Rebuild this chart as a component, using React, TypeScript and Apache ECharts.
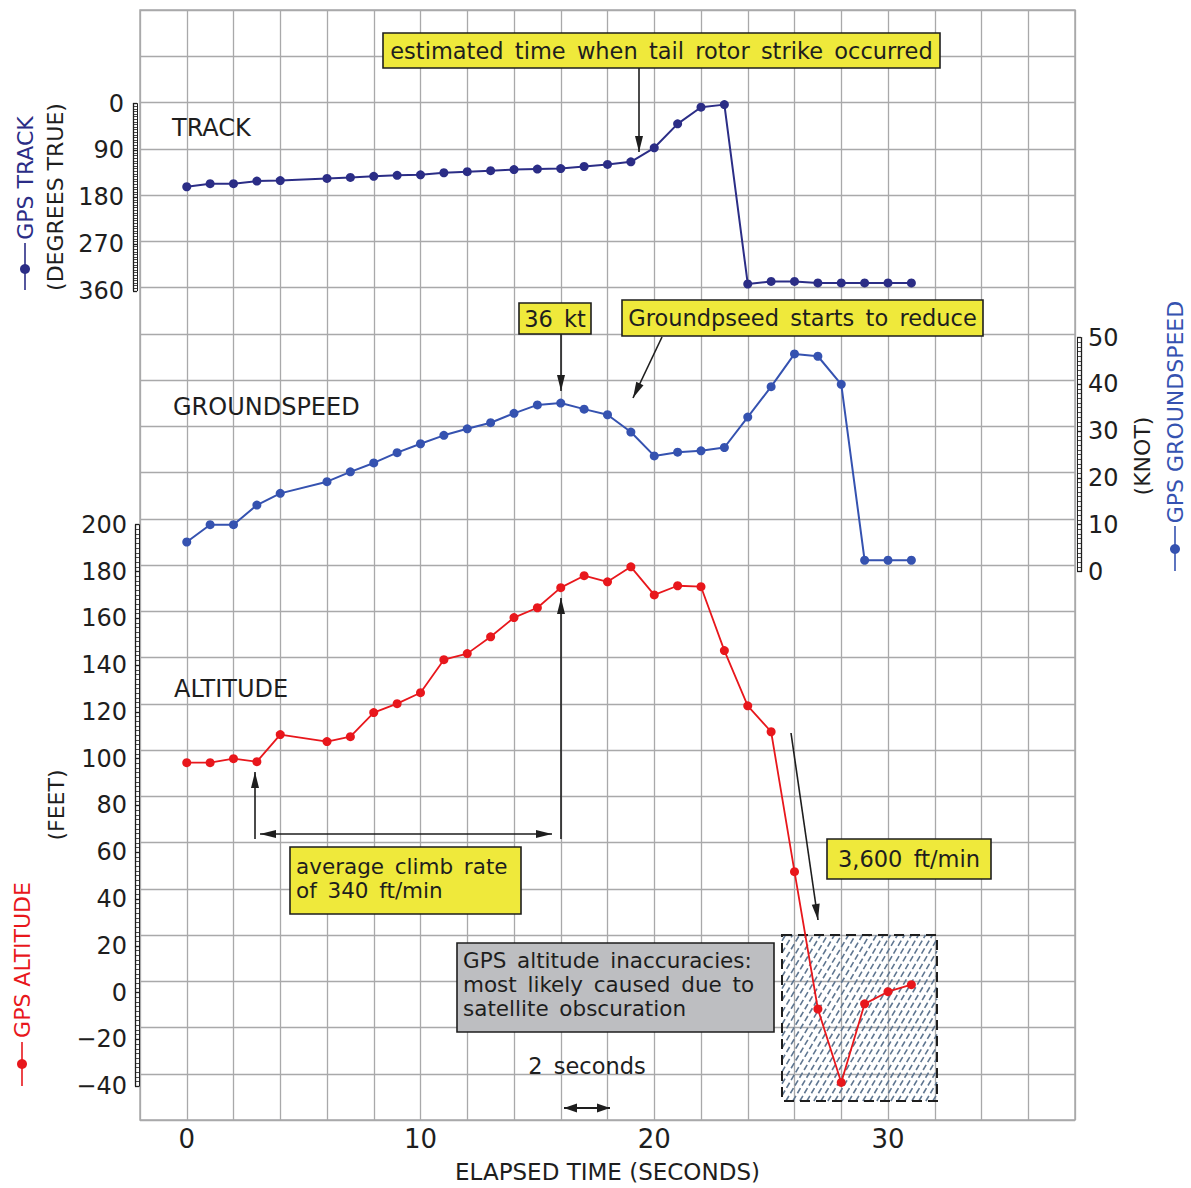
import React, { useEffect, useRef } from "react";
import * as echarts from "echarts";

// ---------------- data ----------------
const timeSec = [0, 1, 2, 3, 4, 6, 7, 8, 9, 10, 11, 12, 13, 14, 15, 16, 17, 18, 19, 20, 21, 22, 23, 24, 25, 26, 27, 28, 29, 30, 31];
const trackDeg = [160, 154, 154, 149, 148, 144, 142, 140, 138, 137, 133, 131, 129, 127, 126, 125, 121, 117, 112, 85, 39, 7, 2, 347, 342, 342, 345, 345, 345, 345, 345];
const groundspeedKt = [6.3, 10, 10, 14.2, 16.7, 19.2, 21.3, 23.2, 25.4, 27.3, 29.1, 30.5, 31.8, 33.8, 35.6, 36, 34.7, 33.5, 29.8, 24.7, 25.5, 25.8, 26.5, 33, 39.5, 46.5, 46, 40, 2.4, 2.4, 2.4];
const altitudeFt = [98.3, 98.3, 100, 98.7, 110.3, 107.3, 109.4, 119.7, 123.5, 128.2, 142.3, 144.9, 152.1, 160.3, 164.5, 173.1, 178.2, 175.6, 182, 170, 173.9, 173.5, 146.2, 122.6, 111.5, 51.7, -7, -38.4, -4.8, 0.4, 3.4];

const xTickLabels = [0, 10, 20, 30];

// ---------------- layout ----------------
const L = 140, T = 10, W = 935, H = 1123;
const ALT_MIN = -60, ALT_MAX = 420;
const yOf = (alt: number) => T + ((ALT_MAX - alt) / (ALT_MAX - ALT_MIN)) * H;

const FONT = "DejaVu Sans";
const GRID_C = "#a9a9aa";
const TRACK_C = "#2b2d86";
const GS_C = "#3552b0";
const ALT_C = "#e8171c";
const YELLOW = "#efe93b";
const INK = "#1e1e1e";
const SP = "\u2002";
const sp = (s: string) => s.split(" ").join(SP);

function arrowHead(x1: number, y1: number, x2: number, y2: number, len: number, half: number) {
  const dx = x2 - x1, dy = y2 - y1;
  const d = Math.sqrt(dx * dx + dy * dy);
  const ux = dx / d, uy = dy / d;
  const bx = x2 - ux * len, by = y2 - uy * len;
  return {
    type: "polygon",
    z: 100,
    shape: { points: [[x2, y2], [bx - uy * half, by + ux * half], [bx + uy * half, by - ux * half]] },
    style: { fill: INK },
  };
}

function arrow(x1: number, y1: number, x2: number, y2: number, both = false, len = 16, half = 4, lw = 1.6) {
  const els: any[] = [
    { type: "line", z: 100, shape: { x1, y1, x2, y2 }, style: { stroke: INK, lineWidth: lw } },
    arrowHead(x1, y1, x2, y2, len, half),
  ];
  if (both) els.push(arrowHead(x2, y2, x1, y1, len, half));
  return els;
}

function box(x: number, y: number, w: number, h: number, fill: string) {
  return { type: "rect", z: 100, shape: { x, y, width: w, height: h }, style: { fill, stroke: INK, lineWidth: 1.6 } };
}

function txt(x: number, y: number, text: string, size = 22.5, align = "center", fill = INK, extra: any = {}) {
  return {
    type: "text",
    z: 101,
    x,
    y,
    style: { text, fill, font: `${size}px "${FONT}"`, align, verticalAlign: "middle", ...extra },
  };
}

function vtitle(x: number, y: number, text: string, fill: string, size = 22) {
  return {
    type: "text",
    z: 101,
    x,
    y,
    rotation: Math.PI / 2,
    style: { text, fill, font: `${size}px "${FONT}"`, align: "center", verticalAlign: "middle" },
  };
}

function marker(x: number, y1: number, y2: number, cy: number, color: string) {
  return [
    { type: "line", z: 100, shape: { x1: x, y1, x2: x, y2 }, style: { stroke: color, lineWidth: 1.6 } },
    { type: "circle", z: 100, shape: { cx: x, cy, r: 5 }, style: { fill: color } },
  ];
}

function hatch(x0: number, y0: number, x1: number, y1: number) {
  const els: any[] = [];
  const m = 1.7; // slope
  const step = 7;
  const cMin = x0 + y0 / m;
  const cMax = x1 + y1 / m;
  for (let c = cMin + step / 2; c < cMax; c += step) {
    const xa = Math.max(x0, c - y1 / m);
    const xb = Math.min(x1, c - y0 / m);
    if (xb <= xa) continue;
    els.push({
      type: "line",
      z: 1,
      shape: { x1: xa, y1: m * (c - xa), x2: xb, y2: m * (c - xb) },
      style: { stroke: "#5f7690", lineWidth: 1.6, lineDash: [6, 3] },
    });
  }
  els.push({
    type: "rect",
    z: 1,
    shape: { x: x0, y: y0, width: x1 - x0, height: y1 - y0 },
    style: { fill: "none", stroke: INK, lineWidth: 2, lineDash: [10, 6] },
  });
  return els;
}

export default function App() {
  const ref = useRef<HTMLDivElement>(null);
  useEffect(() => {
    if (!ref.current) return;
    const chart = echarts.init(ref.current, null, { renderer: "svg" });

    const mk = (arr: number[]) => timeSec.map((t, i) => [t, arr[i]]);
    const subGrid = (hiAlt: number, loAlt: number) => ({
      left: L,
      width: W,
      top: yOf(hiAlt),
      height: yOf(loAlt) - yOf(hiAlt),
      show: false,
    });
    const hiddenX = (gi: number) => ({ type: "value", gridIndex: gi, min: -2, max: 38, interval: 2, show: false });
    const rulerAxis = (gi: number, opts: any) => ({
      type: "value",
      gridIndex: gi,
      splitLine: { show: false },
      axisLine: { show: true, onZero: false, lineStyle: { color: INK, width: 1.3 } },
      axisTick: { show: true, inside: true, length: 4, lineStyle: { color: INK, width: 1.3 } },
      minorTick: { show: true, splitNumber: 10, length: 4, lineStyle: { color: INK, width: 0.8 } },
      axisLabel: { color: INK, fontSize: 24, fontFamily: FONT, margin: 9 },
      ...opts,
    });
    const innerRail = (gi: number, opts: any) => ({
      type: "value",
      gridIndex: gi,
      splitLine: { show: false },
      axisLine: { show: true, onZero: false, lineStyle: { color: INK, width: 1 } },
      axisTick: { show: false },
      axisLabel: { show: false },
      ...opts,
    });

    const graphic: any[] = [
      // panel labels
      txt(172, 128, "TRACK", 24, "left"),
      txt(173, 407, "GROUNDSPEED", 24, "left"),
      txt(174, 689, "ALTITUDE", 24, "left"),
      // axis titles
      vtitle(25, 178, "GPS TRACK", TRACK_C),
      ...marker(25, 243, 290, 269, TRACK_C),
      vtitle(55, 197, "(DEGREES TRUE)", INK),
      vtitle(22, 960, "GPS ALTITUDE", ALT_C),
      ...marker(22, 1042, 1086, 1064, ALT_C),
      vtitle(56, 805, "(FEET)", INK),
      vtitle(1175, 412, "GPS GROUNDSPEED", GS_C),
      ...marker(1175, 526, 571, 549, GS_C),
      vtitle(1142, 456, "(KNOT)", INK),
      // hatched box
      ...hatch(782, 935, 937, 1101),
      // annotation 1
      box(383, 33, 557, 35, YELLOW),
      txt(661.5, 51, sp("estimated time when tail rotor strike occurred")),
      ...arrow(639, 68, 639, 152),
      // 36 kt
      box(519, 303, 72, 31, YELLOW),
      txt(555, 319, sp("36 kt")),
      ...arrow(561, 334, 561, 391),
      // groundspeed reduces
      box(622, 300, 361, 36, YELLOW),
      txt(802.5, 318, sp("Groundpseed starts to reduce")),
      ...arrow(662, 337, 633, 398),
      // climb rate
      ...arrow(255, 839, 255, 772),
      ...arrow(260, 834, 552, 834, true),
      ...arrow(561, 839, 561, 598),
      box(290, 847, 231, 67, YELLOW),
      txt(296, 854, sp("average climb rate") + "\n" + sp("of 340 ft/min"), 21.5, "left", INK, { verticalAlign: "top", lineHeight: 24 }),
      // 3600 ft/min
      box(827, 839, 164, 40, YELLOW),
      txt(909, 859, sp("3,600 ft/min")),
      ...arrow(791, 733, 818, 920),
      // gray note
      box(457, 943, 317, 89, "#bdbec1"),
      txt(
        463,
        948,
        [sp("GPS altitude inaccuracies:"), sp("most likely caused due to"), sp("satellite obscuration")].join("\n"),
        21.5,
        "left",
        INK,
        { verticalAlign: "top", lineHeight: 24 }
      ),
      // 2 seconds
      txt(587, 1066, sp("2 seconds")),
      ...arrow(564, 1108, 610, 1108, true, 13, 4.5, 2),
    ];

    const option: any = {
      animation: false,
      backgroundColor: "#ffffff",
      grid: [
        { left: L, top: T, width: W, height: H, show: true, borderColor: GRID_C, borderWidth: 1.5, backgroundColor: "transparent" },
        subGrid(380, 300),
        subGrid(280, 180),
        subGrid(200, -40),
      ],
      xAxis: [
        {
          type: "value",
          gridIndex: 0,
          min: -2,
          max: 38,
          interval: 2,
          axisLine: { show: false },
          axisTick: { show: false },
          splitLine: { show: true, lineStyle: { color: GRID_C, width: 1.3 } },
          axisLabel: {
            color: INK,
            fontSize: 26,
            fontFamily: FONT,
            margin: 6,
            formatter: (v: number) => (xTickLabels.includes(v) ? String(v) : ""),
          },
          name: "ELAPSED TIME (SECONDS)",
          nameLocation: "middle",
          nameGap: 40,
          nameTextStyle: { color: INK, fontSize: 23, fontFamily: FONT },
        },
        hiddenX(1),
        hiddenX(2),
        hiddenX(3),
      ],
      yAxis: [
        {
          type: "value",
          gridIndex: 0,
          min: ALT_MIN,
          max: ALT_MAX,
          interval: 20,
          axisLine: { show: false },
          axisTick: { show: false },
          axisLabel: { show: false },
          splitLine: { show: true, lineStyle: { color: GRID_C, width: 1.3 } },
        },
        rulerAxis(1, { min: 0, max: 360, interval: 90, inverse: true, position: "left", offset: 7, minorTick: { show: true, splitNumber: 18, length: 4, lineStyle: { color: INK, width: 0.8 } } }),
        rulerAxis(2, { min: 0, max: 50, interval: 10, position: "right", offset: 6, axisLabel: { color: INK, fontSize: 24, fontFamily: FONT, margin: 7 } }),
        rulerAxis(3, {
          min: -40,
          max: 200,
          interval: 20,
          position: "left",
          offset: 5,
          axisLabel: {
            color: INK,
            fontSize: 24,
            fontFamily: FONT,
            margin: 8,
            formatter: (v: number) => (v < 0 ? "\u2212" + Math.abs(v) : String(v)),
          },
        }),
        innerRail(1, { min: 0, max: 360, inverse: true, position: "left", offset: 3 }),
        innerRail(2, { min: 0, max: 50, position: "right", offset: 2 }),
        innerRail(3, { min: -40, max: 200, position: "left", offset: 1 }),
      ],
      series: [
        {
          name: "GPS TRACK",
          type: "line",
          xAxisIndex: 1,
          yAxisIndex: 1,
          data: mk(trackDeg),
          clip: false,
          symbol: "circle",
          symbolSize: 9,
          itemStyle: { color: TRACK_C },
          lineStyle: { color: TRACK_C, width: 2 },
          z: 5,
        },
        {
          name: "GPS GROUNDSPEED",
          type: "line",
          xAxisIndex: 2,
          yAxisIndex: 2,
          data: mk(groundspeedKt),
          clip: false,
          symbol: "circle",
          symbolSize: 9,
          itemStyle: { color: GS_C },
          lineStyle: { color: GS_C, width: 2 },
          z: 5,
        },
        {
          name: "GPS ALTITUDE",
          type: "line",
          xAxisIndex: 3,
          yAxisIndex: 3,
          data: mk(altitudeFt),
          clip: false,
          symbol: "circle",
          symbolSize: 9,
          itemStyle: { color: ALT_C },
          lineStyle: { color: ALT_C, width: 1.8 },
          z: 5,
        },
      ],
      graphic: { elements: graphic },
    };

    chart.setOption(option);
    return () => chart.dispose();
  }, []);

  return (
    <div
      ref={ref}
      style={{ position: "absolute", left: 0, top: 0, width: 1191, height: 1188, background: "#fff" }}
    />
  );
}
